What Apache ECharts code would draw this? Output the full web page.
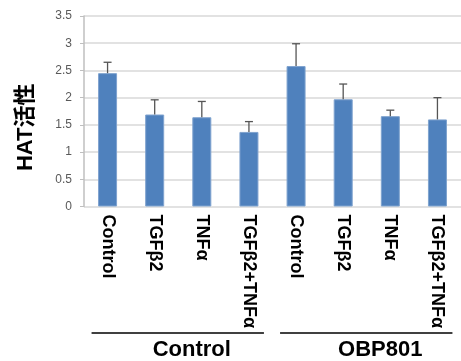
<!DOCTYPE html>
<html><head><meta charset="utf-8">
<script src="https://cdn.jsdelivr.net/npm/echarts@6/dist/echarts.min.js"></script>
<style>html,body{margin:0;padding:0;background:#fff}#c{width:461px;height:361px}</style>
</head><body><div id="c"></div>
<script>
const categories = ['Control','TGFβ2','TNFα','TGFβ2+TNFα','Control','TGFβ2','TNFα','TGFβ2+TNFα'];
const groups = ['Control','OBP801'];
const values = [2.45, 1.69, 1.64, 1.37, 2.58, 1.97, 1.66, 1.60];
const errTop = [2.65, 1.96, 1.93, 1.56, 2.99, 2.25, 1.77, 2.00];
const yTicks = [0, 0.5, 1, 1.5, 2, 2.5, 3, 3.5];

const chart = echarts.init(document.getElementById('c'));
chart.setOption({
  animation: false,
  grid: {left: 84, top: 16, width: 382, bottom: 154.5, containLabel: false},
  xAxis: {
    type: 'category', data: categories,
    axisLine: {show: false}, axisTick: {show: false},
    axisLabel: {rotate: -90, margin: 8, fontSize: 18, fontWeight: 'bold', color: '#000', fontFamily: 'Liberation Sans, Arial', interval: 0}
  },
  yAxis: {
    type: 'value', min: 0, max: 3.5, interval: 0.5,
    name: 'HAT活性', nameLocation: 'middle', nameGap: 47,
    nameTextStyle: {fontSize: 22, fontWeight: 'bold', color: '#000', fontFamily: 'Liberation Sans, Noto Sans CJK JP', padding: [0, 32, 0, 0]},
    axisLine: {show: true, lineStyle: {color: '#bfbfbf', width: 1.5}},
    axisTick: {show: true, length: 4, lineStyle: {color: '#bfbfbf'}},
    splitLine: {lineStyle: {color: '#d9d9d9', width: 1.5}},
    axisLabel: {fontSize: 12, color: '#595959', margin: 12, fontFamily: 'Liberation Sans, Arial',
      formatter: v => yTicks.includes(v) ? String(v) : ''}
  },
  series: [
    {type: 'bar', data: values, barWidth: 19, z: 2,
     itemStyle: {color: '#4f81bd', borderColor: '#7fa3cf', borderWidth: 1}},
    {type: 'custom', z: 3,
     data: errTop.map((e, i) => [i, values[i], e]),
     renderItem: (params, api) => {
       const base = api.coord([api.value(0), api.value(1)]);
       const top = api.coord([api.value(0), api.value(2)]);
       const st = {stroke: '#555', lineWidth: 1.3};
       return {type: 'group', children: [
         {type: 'line', shape: {x1: base[0], y1: base[1], x2: top[0], y2: top[1]}, style: st},
         {type: 'line', shape: {x1: top[0]-4, y1: top[1], x2: top[0]+4, y2: top[1]}, style: st}
       ]};
     }}
  ]
});

function drawGroups() {
  const els = [];
  const lineY = 333;
  groups.forEach((g, gi) => {
    const a = chart.convertToPixel({xAxisIndex: 0}, gi*4);
    const b = chart.convertToPixel({xAxisIndex: 0}, gi*4+3);
    const x1 = a - 16, x2 = b + 15;
    els.push({type: 'line', shape: {x1: x1, y1: lineY, x2: x2, y2: lineY}, style: {stroke: '#000', lineWidth: 1.5}});
    els.push({type: 'text', x: (x1+x2)/2 + 14, y: 350,
      style: {text: g, fontSize: 22, fontWeight: 'bold', fill: '#000', fontFamily: 'Liberation Sans, Arial', align: 'center', verticalAlign: 'middle'}});
  });
  chart.setOption({graphic: els});
}
drawGroups();
</script></body></html>
